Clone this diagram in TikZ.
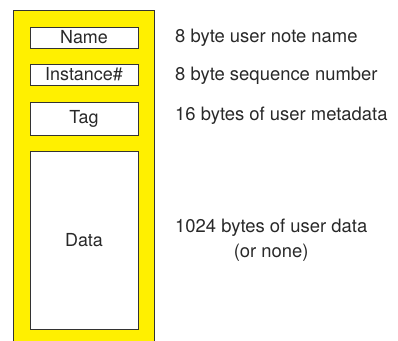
\documentclass[tikz,border=0pt]{standalone}
\usepackage{fontspec}
\setmainfont{TeX Gyre Heros}
\definecolor{NoteYellow}{HTML}{FFF000}
\definecolor{NoteGray}{HTML}{333333}
\usetikzlibrary{positioning}

\begin{document}
\begin{tikzpicture}[x=1bp, y=-1bp,
      field/.style={draw=NoteGray, fill=white, line width=0.9bp, minimum width=108bp,
         inner sep=0pt, font=\fontsize{18}{20}\selectfont, text=NoteGray!80!black},
      desc/.style={anchor=west, inner sep=0pt, font=\fontsize{18.5}{25}\selectfont,
         text=NoteGray!80!black, align=center}]
   \useasboundingbox (0,0) rectangle (398,341);
   % yellow note frame, open at the bottom
   \fill[NoteYellow] (13,10) rectangle (154,341);
   \draw[NoteGray, line width=0.9bp] (13,341) -- (13,10) -- (154,10) -- (154,341);
   % fields
   \node[field, minimum height=21bp] (name) at (84,37.5) {Name};
   \node[field, minimum height=21bp] (inst) at (84,74.5) {Instance\#};
   \node[field, minimum height=33bp] (tag) at (84,118.5) {Tag};
   \node[field, minimum height=178bp] (data) at (84,240) {Data};
   % descriptions
   \node[desc] (namedesc) at (175,38) {8 byte user note name};
   \node[desc] (instdesc) at (175,76) {8 byte sequence number};
   \node[desc] (tagdesc) at (175,116) {16 bytes of user metadata};
   \node[desc] (datadesc) at (175,240) {1024 bytes of user data\\(or none)};
\end{tikzpicture}
\end{document}
